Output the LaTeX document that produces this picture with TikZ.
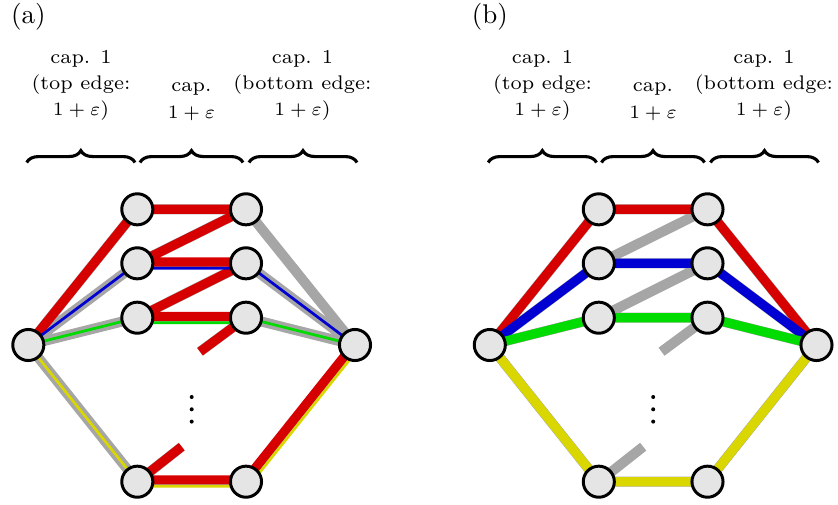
\documentclass[tikz,border=0pt]{standalone}
\usepackage{amsmath}
\usepackage{amssymb}
\usetikzlibrary{calc,decorations.pathreplacing}
\pgfdeclarelayer{edges}
\pgfsetlayers{edges,main}
\definecolor{edgegray}{RGB}{166,166,166}
\definecolor{flowred}{RGB}{215,0,0}
\definecolor{flowblue}{RGB}{0,0,210}
\definecolor{flowgreen}{RGB}{0,220,0}
\definecolor{flowyellow}{RGB}{217,214,0}

\begin{document}
\begin{tikzpicture}[x=0.37pt,y=0.37pt,yscale=-1,xscale=1,
    vtx/.style={circle,draw=black,line width=1.1pt,fill=gray!20,minimum size=11.5pt,inner sep=0pt},
    base/.style={draw=edgegray,line width=3.7pt},
    band/.style={draw=#1,line width=3.4pt},
    thin/.style={draw=#1,line width=1pt},
    capbrace/.style={decorate,decoration={brace,amplitude=4.4pt},line width=1.15pt},
    captext/.style={align=center,anchor=south,inner sep=0pt,font=\fontsize{7.3}{9.7}\selectfont},
    dot/.style={fill=black,draw=none}]
\useasboundingbox (0,0) rectangle (838,505);

%%%%%%%%%%%%%%%%%%%%%%%% (a)
% Text Node
\node (a-lbl) at (28.3,16.5) {(a)};
% Text Node
\node[captext] (a-cap1) at (81,121) {cap. 1\\(top edge:\\$1+\varepsilon$)};
\node[captext] (a-cap2) at (191.5,121) {cap.\\$1+\varepsilon$};
\node[captext] (a-cap3) at (302.5,121) {cap. 1\\(bottom edge:\\$1+\varepsilon$)};
%Braces
\draw[capbrace] (26.7,162.5) -- (135,162.5);
\draw[capbrace] (140,162.5) -- (243,162.5);
\draw[capbrace] (249,162.5) -- (357,162.5);

%Shape: Circles
\node[vtx] (a-s) at (28.3,345) {};
\node[vtx] (a-u1) at (137.3,209.3) {};
\node[vtx] (a-u2) at (137.3,263.3) {};
\node[vtx] (a-u3) at (137.3,317.7) {};
\node[vtx] (a-u4) at (137.3,481.7) {};
\node[vtx] (a-v1) at (246,209.3) {};
\node[vtx] (a-v2) at (246,263.3) {};
\node[vtx] (a-v3) at (246,317.7) {};
\node[vtx] (a-v4) at (246,481.7) {};
\node[vtx] (a-t) at (355,345) {};
\coordinate (a-e3) at (200,351.7);
\coordinate (a-e4) at (181.7,446.7);
%Dots
\fill[dot] (191.7,397) circle (2) (191.7,409.3) circle (2) (191.7,421.6) circle (2);

\begin{pgfonlayer}{edges}
%Straight Lines
\draw[base] (a-s.center) -- (a-u1.center) (a-s.center) -- (a-u2.center) (a-s.center) -- (a-u3.center) (a-s.center) -- (a-u4.center)
  (a-u1.center) -- (a-v1.center) (a-v1.center) -- (a-u2.center) (a-u2.center) -- (a-v2.center) (a-v2.center) -- (a-u3.center)
  (a-u3.center) -- (a-v3.center) (a-v3.center) -- (a-e3) (a-u4.center) -- (a-e4) (a-u4.center) -- (a-v4.center)
  (a-v1.center) -- (a-t.center) (a-v2.center) -- (a-t.center) (a-v3.center) -- (a-t.center) (a-v4.center) -- (a-t.center);
\draw[band=flowred] (a-s.center) -- (a-u1.center) (a-u1.center) -- (a-v1.center) (a-v1.center) -- (a-u2.center)
  ($(a-u2)+(0,-1.3)$) -- ($(a-v2)+(0,-1.3)$) (a-v2.center) -- (a-u3.center) ($(a-u3)+(0,-1.3)$) -- ($(a-v3)+(0,-1.3)$)
  (a-v3.center) -- (a-e3) (a-u4.center) -- (a-e4) ($(a-u4)+(0,-1.8)$) -- ($(a-v4)+(0,-1.8)$)
  ($(a-v4)+(-1,-0.8)$) -- ($(a-t)+(-1,-0.8)$);
\draw[thin=flowblue] (a-s.center) -- (a-u2.center) ($(a-u2)+(0,5)$) -- ($(a-v2)+(0,5)$) (a-v2.center) -- (a-t.center);
\draw[thin=flowgreen] (a-s.center) -- (a-u3.center) ($(a-u3)+(0,5)$) -- ($(a-v3)+(0,5)$) (a-v3.center) -- (a-t.center);
\draw[thin=flowyellow] (a-s.center) -- (a-u4.center) ($(a-u4)+(0,4.5)$) -- ($(a-v4)+(0,4.5)$) ($(a-v4)+(3.9,3.1)$) -- ($(a-t)+(3.9,3.1)$);
\end{pgfonlayer}

%%%%%%%%%%%%%%%%%%%%%%%% (b)
\begin{scope}[shift={(461.5,0)}]
% Text Node
\node (b-lbl) at (28.3,16.5) {(b)};
% Text Node
\node[captext] (b-cap1) at (81,121) {cap. 1\\(top edge:\\$1+\varepsilon$)};
\node[captext] (b-cap2) at (191.5,121) {cap.\\$1+\varepsilon$};
\node[captext] (b-cap3) at (302.5,121) {cap. 1\\(bottom edge:\\$1+\varepsilon$)};
%Braces
\draw[capbrace] (26.7,162.5) -- (135,162.5);
\draw[capbrace] (140,162.5) -- (243,162.5);
\draw[capbrace] (249,162.5) -- (357,162.5);

%Shape: Circles
\node[vtx] (b-s) at (28.3,345) {};
\node[vtx] (b-u1) at (137.3,209.3) {};
\node[vtx] (b-u2) at (137.3,263.3) {};
\node[vtx] (b-u3) at (137.3,317.7) {};
\node[vtx] (b-u4) at (137.3,481.7) {};
\node[vtx] (b-v1) at (246,209.3) {};
\node[vtx] (b-v2) at (246,263.3) {};
\node[vtx] (b-v3) at (246,317.7) {};
\node[vtx] (b-v4) at (246,481.7) {};
\node[vtx] (b-t) at (355,345) {};
\coordinate (b-e3) at (200,351.7);
\coordinate (b-e4) at (181.7,446.7);
%Dots
\fill[dot] (191.7,397) circle (2) (191.7,409.3) circle (2) (191.7,421.6) circle (2);
\end{scope}

\begin{pgfonlayer}{edges}
%Straight Lines
\draw[base] (b-s.center) -- (b-u1.center) (b-s.center) -- (b-u2.center) (b-s.center) -- (b-u3.center) (b-s.center) -- (b-u4.center)
  (b-u1.center) -- (b-v1.center) (b-v1.center) -- (b-u2.center) (b-u2.center) -- (b-v2.center) (b-v2.center) -- (b-u3.center)
  (b-u3.center) -- (b-v3.center) (b-v3.center) -- (b-e3) (b-u4.center) -- (b-e4) (b-u4.center) -- (b-v4.center)
  (b-v1.center) -- (b-t.center) (b-v2.center) -- (b-t.center) (b-v3.center) -- (b-t.center) (b-v4.center) -- (b-t.center);
\draw[band=flowred] (b-s.center) -- (b-u1.center) (b-u1.center) -- (b-v1.center) (b-v1.center) -- (b-t.center);
\draw[band=flowblue] (b-s.center) -- (b-u2.center) (b-u2.center) -- (b-v2.center) (b-v2.center) -- (b-t.center);
\draw[band=flowgreen] (b-s.center) -- (b-u3.center) (b-u3.center) -- (b-v3.center) (b-v3.center) -- (b-t.center);
\draw[band=flowyellow] (b-s.center) -- (b-u4.center) (b-u4.center) -- (b-v4.center) (b-v4.center) -- (b-t.center);
\end{pgfonlayer}

\end{tikzpicture}
\end{document}
